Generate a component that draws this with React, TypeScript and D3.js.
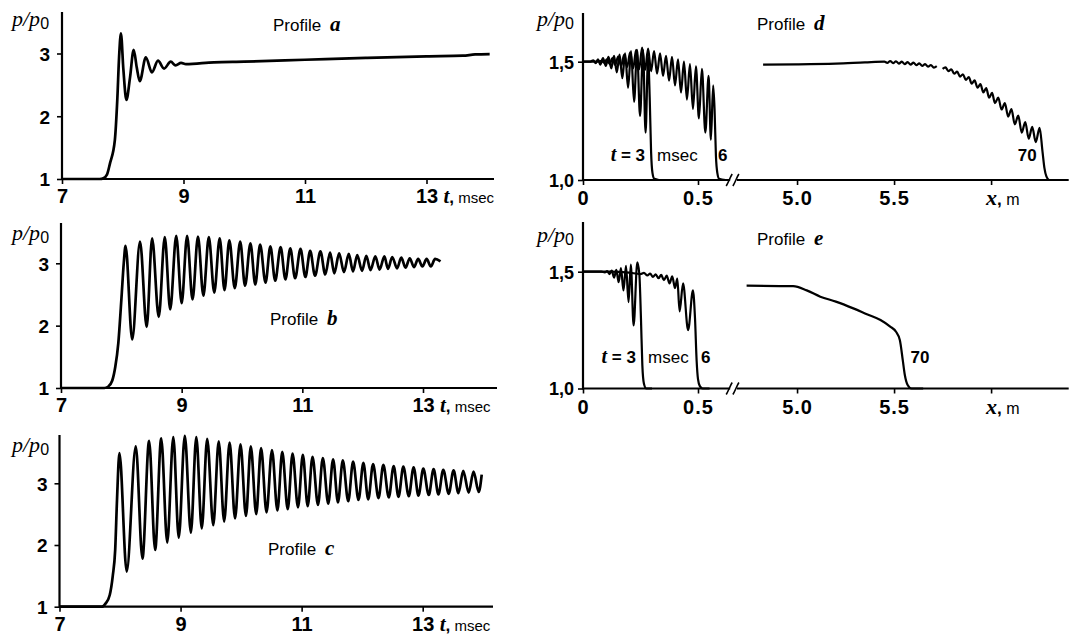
import React, { useRef, useEffect } from 'react';
import * as d3 from 'd3';

type Pt = [number, number];

// ---- profiles a-c : p/p0 against t (msec) ----
const timeTicks = [7, 9, 11, 13];
const pTicks = [1, 2, 3];

const aCurve: Pt[] = [
  [7, 1], [7.62, 1], [7.68, 1.01], [7.74, 1.07], [7.79, 1.25], [7.87, 1.62], [7.91, 2.26], [7.94, 2.95],
  [7.97, 3.32], [8.01, 2.75], [8.06, 2.26], [8.12, 2.62], [8.18, 3.06], [8.23, 2.78], [8.28, 2.56],
  [8.38, 2.94], [8.48, 2.7], [8.58, 2.885], [8.68, 2.76], [8.79, 2.87], [8.87, 2.81], [8.96, 2.85],
  [9.04, 2.83], [9.5, 2.86], [10, 2.87], [11, 2.9], [12, 2.93], [13, 2.955], [13.6, 2.965],
  [13.8, 2.985], [14.04, 2.99],
];

const bRise: Pt[] = [[7, 1], [7.72, 1], [7.78, 1.02], [7.85, 1.12], [7.9, 1.34], [7.95, 1.72], [8.0, 2.41], [8.04, 3.0]];
const bPeaks: Pt[] = [
  [8.07, 3.28], [8.31, 3.35], [8.51, 3.4], [8.72, 3.42], [8.91, 3.44], [9.09, 3.44], [9.27, 3.43], [9.45, 3.42],
  [9.63, 3.4], [9.79, 3.37], [9.97, 3.35], [10.14, 3.32], [10.3, 3.3], [10.47, 3.27], [10.64, 3.26], [10.8, 3.24],
  [10.97, 3.23], [11.13, 3.2], [11.3, 3.19], [11.46, 3.17], [11.61, 3.16], [11.77, 3.15], [11.91, 3.13], [12.06, 3.12],
  [12.21, 3.11], [12.36, 3.11], [12.49, 3.1], [12.64, 3.09], [12.78, 3.08], [12.92, 3.07], [13.06, 3.07], [13.2, 3.07],
];
const bTroughs: Pt[] = [
  [8.18, 1.78], [8.42, 1.98], [8.62, 2.14], [8.81, 2.26], [9.0, 2.36], [9.18, 2.42], [9.36, 2.48], [9.54, 2.53],
  [9.71, 2.57], [9.88, 2.6], [10.05, 2.64], [10.22, 2.66], [10.39, 2.69], [10.55, 2.72], [10.72, 2.74], [10.88, 2.76],
  [11.05, 2.78], [11.21, 2.8], [11.38, 2.82], [11.53, 2.84], [11.69, 2.86], [11.84, 2.87], [11.99, 2.88], [12.13, 2.89],
  [12.28, 2.9], [12.42, 2.91], [12.57, 2.92], [12.71, 2.93], [12.85, 2.94], [12.99, 2.95], [13.13, 2.95],
];
const bTail: Pt[] = [[13.29, 3.03]];

const cRise: Pt[] = [[7, 1], [7.7, 1], [7.76, 1.05], [7.83, 1.19], [7.88, 1.5], [7.92, 1.92], [7.95, 2.73]];
const cPeaks: Pt[] = [
  [7.99, 3.49], [8.26, 3.6], [8.48, 3.69], [8.68, 3.73], [8.88, 3.75], [9.07, 3.77], [9.26, 3.75], [9.44, 3.72],
  [9.63, 3.68], [9.81, 3.66], [9.99, 3.63], [10.16, 3.6], [10.33, 3.57], [10.51, 3.54], [10.68, 3.51], [10.85, 3.48],
  [11.02, 3.46], [11.18, 3.43], [11.35, 3.41], [11.52, 3.39], [11.68, 3.37], [11.85, 3.35], [12.02, 3.33], [12.18, 3.31],
  [12.35, 3.3], [12.52, 3.28], [12.68, 3.27], [12.85, 3.26], [13.01, 3.24], [13.18, 3.23], [13.34, 3.22], [13.51, 3.21],
  [13.67, 3.2], [13.84, 3.19],
];
const cTroughs: Pt[] = [
  [8.11, 1.57], [8.37, 1.78], [8.58, 1.92], [8.78, 2.04], [8.97, 2.12], [9.17, 2.2], [9.35, 2.27], [9.54, 2.32],
  [9.72, 2.38], [9.9, 2.43], [10.08, 2.47], [10.25, 2.5], [10.42, 2.53], [10.6, 2.56], [10.77, 2.58], [10.94, 2.61],
  [11.1, 2.63], [11.27, 2.65], [11.44, 2.67], [11.6, 2.69], [11.77, 2.71], [11.94, 2.73], [12.1, 2.74], [12.27, 2.76],
  [12.44, 2.77], [12.6, 2.78], [12.77, 2.79], [12.93, 2.8], [13.1, 2.81], [13.26, 2.82], [13.43, 2.83], [13.59, 2.84],
  [13.76, 2.85], [13.925, 2.86],
];
const cTail: Pt[] = [[13.975, 3.14]];

// ---- profiles d, e : p/p0 against x (m), broken axis ----
const xTickValues = [0, 0.5, 5.0, 5.5, 6.0];
const xTickLabels = ['0', '0.5', '5.0', '5.5', ''];
const p2Ticks = [1.0, 1.5];
const p2Labels = ['1,0', '1,5'];

const d3ms: Pt[] = [
  [0, 1.5], [0.03, 1.5], [0.045, 1.506], [0.055, 1.494], [0.065, 1.51], [0.075, 1.488], [0.087, 1.515], [0.099, 1.482],
  [0.111, 1.52], [0.123, 1.472], [0.135, 1.525], [0.147, 1.455], [0.159, 1.53], [0.171, 1.43], [0.183, 1.535],
  [0.196, 1.39], [0.209, 1.545], [0.222, 1.33], [0.235, 1.55], [0.248, 1.27], [0.261, 1.55], [0.272, 1.2],
  [0.283, 1.52], [0.29, 1.35], [0.296, 1.12], [0.302, 1.03], [0.31, 1.005], [0.33, 1.0],
];
const d6ms: Pt[] = [
  [0, 1.5], [0.06, 1.5], [0.08, 1.504], [0.092, 1.496], [0.104, 1.51], [0.116, 1.49], [0.128, 1.515], [0.14, 1.486],
  [0.153, 1.522], [0.166, 1.482], [0.179, 1.53], [0.192, 1.478], [0.205, 1.54], [0.218, 1.472], [0.231, 1.55],
  [0.244, 1.468], [0.257, 1.56], [0.27, 1.465], [0.283, 1.555], [0.296, 1.46], [0.309, 1.545], [0.322, 1.45],
  [0.335, 1.535], [0.348, 1.44], [0.361, 1.525], [0.374, 1.42], [0.387, 1.52], [0.4, 1.4], [0.413, 1.51],
  [0.426, 1.37], [0.439, 1.5], [0.452, 1.34], [0.465, 1.49], [0.478, 1.3], [0.491, 1.48], [0.504, 1.26],
  [0.517, 1.47], [0.532, 1.2], [0.546, 1.44], [0.556, 1.17], [0.566, 1.4], [0.572, 1.3], [0.578, 1.1],
  [0.584, 1.03], [0.592, 1.005], [0.62, 1.0],
];
const d70a: Pt[] = [
  [4.825, 1.488], [5.0, 1.489], [5.2, 1.492], [5.35, 1.497], [5.45, 1.5], [5.465, 1.495], [5.48, 1.503], [5.495, 1.494],
  [5.51, 1.502], [5.525, 1.492], [5.54, 1.5], [5.555, 1.49], [5.57, 1.498], [5.585, 1.488], [5.6, 1.496], [5.615, 1.485],
  [5.63, 1.493], [5.645, 1.482], [5.66, 1.49], [5.675, 1.479], [5.69, 1.486], [5.705, 1.475], [5.72, 1.481],
];
const d70b: Pt[] = [
  [5.75, 1.47], [5.765, 1.476], [5.78, 1.46], [5.795, 1.468], [5.81, 1.449], [5.825, 1.458], [5.84, 1.437],
  [5.855, 1.447], [5.87, 1.423], [5.885, 1.435], [5.9, 1.407], [5.915, 1.421], [5.93, 1.39], [5.945, 1.405],
  [5.96, 1.37], [5.975, 1.388], [5.99, 1.348], [6.005, 1.368], [6.02, 1.325], [6.037, 1.348], [6.054, 1.298],
  [6.071, 1.325], [6.088, 1.268], [6.105, 1.3], [6.122, 1.235], [6.14, 1.272], [6.158, 1.2], [6.176, 1.245],
  [6.194, 1.175], [6.212, 1.225], [6.23, 1.16], [6.25, 1.22], [6.265, 1.12], [6.275, 1.05], [6.285, 1.015],
  [6.3, 1.0], [6.38, 1.0],
];

const e3ms: Pt[] = [
  [0, 1.5], [0.08, 1.5], [0.095, 1.497], [0.105, 1.503], [0.115, 1.49], [0.125, 1.505], [0.135, 1.475], [0.145, 1.508],
  [0.155, 1.455], [0.165, 1.515], [0.176, 1.42], [0.187, 1.525], [0.198, 1.37], [0.208, 1.53], [0.22, 1.27],
  [0.236, 1.54], [0.245, 1.49], [0.252, 1.3], [0.258, 1.1], [0.265, 1.02], [0.275, 1.0], [0.3, 1.0],
];
const e6ms: Pt[] = [
  [0, 1.5], [0.12, 1.5], [0.2, 1.496], [0.25, 1.49], [0.265, 1.495], [0.28, 1.484], [0.292, 1.492], [0.304, 1.478],
  [0.316, 1.489], [0.328, 1.472], [0.34, 1.486], [0.352, 1.464], [0.364, 1.483], [0.376, 1.45], [0.388, 1.48],
  [0.4, 1.43], [0.41, 1.47], [0.42, 1.33], [0.435, 1.45], [0.457, 1.25], [0.478, 1.42], [0.487, 1.3],
  [0.494, 1.12], [0.5, 1.04], [0.508, 1.01], [0.52, 1.0], [0.55, 1.0],
];
const e70: Pt[] = [
  [4.74, 1.44], [4.98, 1.438], [5.05, 1.42], [5.12, 1.393], [5.2, 1.372], [5.29, 1.343], [5.36, 1.318], [5.43, 1.293],
  [5.48, 1.265], [5.51, 1.243], [5.53, 1.207], [5.545, 1.12], [5.555, 1.06], [5.57, 1.015], [5.59, 1.0], [5.65, 1.0],
];

const SANS = '"Liberation Sans", Arial, sans-serif';
const SERIF = '"Liberation Serif", "Times New Roman", serif';

const joinSeries = (...parts: Pt[][]) => parts.flat().sort((u, v) => u[0] - v[0]);

// layout of each panel (pixels)
const timePanels = [
  { letter: 'a', data: aCurve, x7: 62, x13: 426.5, y1: 179, y3: 53.5, yTop: 12, xEnd: 494, pY: 26, prof: [273, 31] },
  { letter: 'b', data: joinSeries(bRise, bPeaks, bTroughs, bTail), x7: 61, x13: 423, y1: 388, y3: 263.3, yTop: 223, xEnd: 497, pY: 240, prof: [270, 325] },
  { letter: 'c', data: joinSeries(cRise, cPeaks, cTroughs, cTail), x7: 59.5, x13: 422.7, y1: 606.7, y3: 483.3, yTop: 435, xEnd: 493, pY: 452, prof: [268, 555] },
];

const spacePanels = [
  { letter: 'd', curves: [d3ms, d6ms, d70a, d70b], y1: 180, y15: 61.7, yTop: 13, pY: 26, prof: [757, 30], labY: 161,
    t3: 0.27, msec: 0.322, six: 0.587, seventy: 6.235, seventyAnchor: 'end' },
  { letter: 'e', curves: [e3ms, e6ms, e70], y1: 388.5, y15: 271.7, yTop: 222, pY: 242, prof: [757, 245], labY: 363,
    t3: 0.23, msec: 0.283, six: 0.513, seventy: 5.585, seventyAnchor: 'start' },
];

const xBreakDomain = [0, 0.64, 4.69, 6.4];
const xBreakRange = [583, 730.2, 736.9, 1068.7];

function pLabel(g: any, x: number, y: number, anchor: string) {
  const t = g.append('text').attr('x', x).attr('y', y).attr('text-anchor', anchor);
  t.append('tspan').text('p/p').style('font-family', SERIF).style('font-style', 'italic').style('font-size', '22px');
  t.append('tspan').text('0').attr('dy', 3).style('font-family', SANS).style('font-size', '16px');
}

function profileLabel(g: any, pos: number[], letter: string) {
  const t = g.append('text').attr('x', pos[0]).attr('y', pos[1]);
  t.append('tspan').text('Profile ').style('font-family', SANS).style('font-size', '17px');
  t.append('tspan').text(letter).attr('dx', 4).style('font-family', SERIF).style('font-style', 'italic')
    .style('font-weight', 'bold').style('font-size', '21px');
}

function styleAxis(ax: any, size: number) {
  ax.select('.domain').remove();
  ax.attr('font-family', SANS).attr('font-size', size).attr('font-weight', 'bold');
  ax.selectAll('line').attr('stroke', '#000').attr('stroke-width', 1.6);
  ax.selectAll('text').attr('fill', '#000');
}

function drawTimePanel(svg: any, p: any) {
  const g = svg.append('g');
  const x = d3.scaleLinear().domain([7, 13]).range([p.x7, p.x13]);
  const y = d3.scaleLinear().domain([1, 3]).range([p.y1, p.y3]);

  g.append('path').attr('d', `M${p.xEnd},${p.y1}H${p.x7}V${p.yTop}`)
    .attr('fill', 'none').attr('stroke', '#000').attr('stroke-width', 2.2);

  const xa = g.append('g').attr('transform', `translate(0,${p.y1})`)
    .call(d3.axisBottom(x).tickValues(timeTicks).tickSize(5).tickSizeOuter(0).tickFormat(d3.format('d')));
  styleAxis(xa, 20);
  xa.selectAll('text').attr('y', 24).attr('dy', null);

  const ya = g.append('g').attr('transform', `translate(${p.x7},0)`)
    .call(d3.axisLeft(y).tickValues(pTicks).tickSize(5).tickSizeOuter(0).tickFormat(d3.format('d')));
  styleAxis(ya, 19);
  ya.selectAll('text').attr('x', -12).attr('dy', '0.36em');

  // axis name after the last tick
  const tl = g.append('text').attr('x', p.x13 + 17).attr('y', p.y1 + 24);
  tl.append('tspan').text('t').style('font-family', SERIF).style('font-style', 'italic').style('font-weight', 'bold').style('font-size', '21px');
  tl.append('tspan').text(',').style('font-family', SANS).style('font-weight', 'bold').style('font-size', '17px');
  tl.append('tspan').text(' msec').style('font-family', SANS).style('font-size', '15px');

  pLabel(g, 12, p.pY, 'start');
  profileLabel(g, p.prof, p.letter);

  const line = d3.line<Pt>().x(d => x(d[0])).y(d => y(d[1])).curve(d3.curveMonotoneX);
  g.append('path').datum(p.data).attr('d', line)
    .attr('fill', 'none').attr('stroke', '#000').attr('stroke-width', 2.7).attr('stroke-linejoin', 'round');
}

function drawSpacePanel(svg: any, p: any) {
  const g = svg.append('g');
  const x = d3.scaleLinear().domain(xBreakDomain).range(xBreakRange);
  const y = d3.scaleLinear().domain([1, 1.5]).range([p.y1, p.y15]);
  const x0 = x(0);

  // broken x axis and y axis
  g.append('path')
    .attr('d', `M${xBreakRange[1]},${p.y1}H${x0}V${p.yTop}M${xBreakRange[2]},${p.y1}H${xBreakRange[3]}`)
    .attr('fill', 'none').attr('stroke', '#000').attr('stroke-width', 2.2);
  [xBreakRange[1] - 1, xBreakRange[2] - 1].forEach(xb => {
    g.append('path').attr('d', `M${xb - 3},${p.y1 + 6}C${xb - 1},${p.y1 + 3} ${xb + 1},${p.y1 - 3} ${xb + 3},${p.y1 - 6}`)
      .attr('fill', 'none').attr('stroke', '#000').attr('stroke-width', 1.6);
  });

  const xa = g.append('g').attr('transform', `translate(0,${p.y1})`)
    .call(d3.axisBottom(x).tickValues(xTickValues).tickSize(5).tickSizeOuter(0).tickFormat((_d: any, i: number) => xTickLabels[i]));
  styleAxis(xa, 20);
  xa.selectAll('text').attr('y', 25).attr('dy', null).attr('letter-spacing', 1);

  const ya = g.append('g').attr('transform', `translate(${x0},0)`)
    .call(d3.axisLeft(y).tickValues(p2Ticks).tickSize(5).tickSizeOuter(0).tickFormat((_d: any, i: number) => p2Labels[i]));
  styleAxis(ya, 18);
  ya.selectAll('text').attr('x', -9).attr('dy', '0.36em');

  const xl = g.append('text').attr('x', x(6.0) - 5).attr('y', p.y1 + 25);
  xl.append('tspan').text('x').style('font-family', SERIF).style('font-style', 'italic').style('font-weight', 'bold').style('font-size', '22px');
  xl.append('tspan').text(',').style('font-family', SANS).style('font-weight', 'bold').style('font-size', '17px');
  xl.append('tspan').text(' m').style('font-family', SANS).style('font-size', '16px');

  pLabel(g, x0 - 9, p.pY, 'end');
  profileLabel(g, p.prof, p.letter);

  const line = d3.line<Pt>().x(d => x(d[0])).y(d => y(d[1])).curve(d3.curveMonotoneX);
  p.curves.forEach((c: Pt[]) => {
    g.append('path').datum(c).attr('d', line)
      .attr('fill', 'none').attr('stroke', '#000').attr('stroke-width', 2.2).attr('stroke-linejoin', 'round');
  });

  // time labels of the curves
  const tt = g.append('text').attr('x', x(p.t3)).attr('y', p.labY).attr('text-anchor', 'end')
    .style('font-family', SANS).style('font-weight', 'bold').style('font-size', '17px');
  tt.append('tspan').text('t').style('font-family', SERIF).style('font-style', 'italic').style('font-size', '20px');
  tt.append('tspan').text(' = 3');
  g.append('text').attr('x', x(p.msec)).attr('y', p.labY).text('msec')
    .style('font-family', SANS).style('font-size', '17px');
  g.append('text').attr('x', x(p.six)).attr('y', p.labY).text('6')
    .style('font-family', SANS).style('font-weight', 'bold').style('font-size', '17px');
  g.append('text').attr('x', x(p.seventy)).attr('y', p.labY).attr('text-anchor', p.seventyAnchor).text('70')
    .style('font-family', SANS).style('font-weight', 'bold').style('font-size', '17px');
}

const App = () => {
  const ref = useRef<SVGSVGElement>(null);

  useEffect(() => {
    const svg = d3.select(ref.current);
    svg.selectAll('*').remove();
    timePanels.forEach(p => drawTimePanel(svg, p));
    spacePanels.forEach(p => drawSpacePanel(svg, p));
  }, []);

  return (
    <svg ref={ref} width={1078} height={637}
      style={{ position: 'absolute', left: 0, top: 0, background: '#fff' }} />
  );
};

export default App;
